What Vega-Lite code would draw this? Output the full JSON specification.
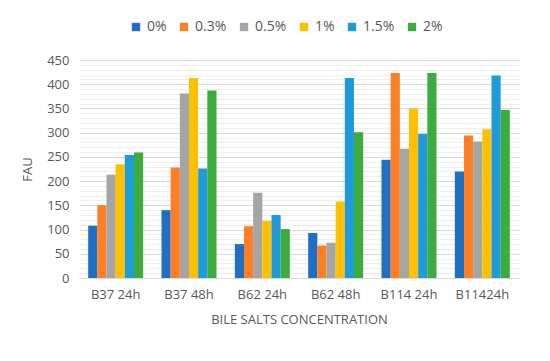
{
  "$schema": "https://vega.github.io/schema/vega-lite/v6.json",
  "width": 440,
  "height": 218,
  "padding": {"left": 21, "top": 20, "right": 23, "bottom": 10},
  "background": "white",
  "data": {
    "values": [
      {"group": "B37 24h", "conc": "0%", "fau": 108},
      {"group": "B37 24h", "conc": "0.3%", "fau": 150},
      {"group": "B37 24h", "conc": "0.5%", "fau": 213},
      {"group": "B37 24h", "conc": "1%", "fau": 235},
      {"group": "B37 24h", "conc": "1.5%", "fau": 254},
      {"group": "B37 24h", "conc": "2%", "fau": 259},
      {"group": "B37 48h", "conc": "0%", "fau": 140},
      {"group": "B37 48h", "conc": "0.3%", "fau": 228},
      {"group": "B37 48h", "conc": "0.5%", "fau": 381},
      {"group": "B37 48h", "conc": "1%", "fau": 413},
      {"group": "B37 48h", "conc": "1.5%", "fau": 226},
      {"group": "B37 48h", "conc": "2%", "fau": 387},
      {"group": "B62 24h", "conc": "0%", "fau": 70},
      {"group": "B62 24h", "conc": "0.3%", "fau": 107},
      {"group": "B62 24h", "conc": "0.5%", "fau": 176},
      {"group": "B62 24h", "conc": "1%", "fau": 118},
      {"group": "B62 24h", "conc": "1.5%", "fau": 130},
      {"group": "B62 24h", "conc": "2%", "fau": 101},
      {"group": "B62 48h", "conc": "0%", "fau": 93},
      {"group": "B62 48h", "conc": "0.3%", "fau": 67},
      {"group": "B62 48h", "conc": "0.5%", "fau": 73},
      {"group": "B62 48h", "conc": "1%", "fau": 158},
      {"group": "B62 48h", "conc": "1.5%", "fau": 413},
      {"group": "B62 48h", "conc": "2%", "fau": 301},
      {"group": "B114 24h", "conc": "0%", "fau": 244},
      {"group": "B114 24h", "conc": "0.3%", "fau": 423},
      {"group": "B114 24h", "conc": "0.5%", "fau": 267},
      {"group": "B114 24h", "conc": "1%", "fau": 350},
      {"group": "B114 24h", "conc": "1.5%", "fau": 297},
      {"group": "B114 24h", "conc": "2%", "fau": 423},
      {"group": "B11424h", "conc": "0%", "fau": 220},
      {"group": "B11424h", "conc": "0.3%", "fau": 294},
      {"group": "B11424h", "conc": "0.5%", "fau": 282},
      {"group": "B11424h", "conc": "1%", "fau": 307},
      {"group": "B11424h", "conc": "1.5%", "fau": 418},
      {"group": "B11424h", "conc": "2%", "fau": 347}
    ]
  },
  "mark": {"type": "bar"},
  "encoding": {
    "x": {
      "field": "group",
      "type": "nominal",
      "sort": null,
      "scale": {"paddingInner": 0.25, "paddingOuter": 0.125},
      "axis": {
        "title": "BILE SALTS CONCENTRATION",
        "labelAngle": 0,
        "ticks": false,
        "domainColor": "#d9d9d9",
        "labelPadding": 10,
        "titlePadding": 12
      }
    },
    "xOffset": {"field": "conc", "type": "nominal", "sort": null},
    "y": {
      "field": "fau",
      "type": "quantitative",
      "scale": {"domain": [0, 450], "nice": false},
      "axis": {
        "title": "FAU",
        "values": [0,10,20,30,40,50,60,70,80,90,100,110,120,130,140,150,160,170,180,190,200,210,220,230,240,250,260,270,280,290,300,310,320,330,340,350,360,370,380,390,400,410,420,430,440,450],
        "labelExpr": "datum.value % 50 === 0 ? datum.label : ''",
        "grid": true,
        "gridColor": {"condition": {"test": "datum.value % 50 === 0", "value": "#d9d9d9"}, "value": "#efefef"},
        "ticks": false,
        "domain": false,
        "labelPadding": 10,
        "titlePadding": 12
      }
    },
    "color": {
      "field": "conc",
      "type": "nominal",
      "sort": null,
      "scale": {
        "domain": ["0%", "0.3%", "0.5%", "1%", "1.5%", "2%"],
        "range": ["#1F6FC5", "#FF7F27", "#A5A5A5", "#FFC000", "#1E9BD8", "#3DAB3D"]
      },
      "legend": {
        "orient": "none",
        "legendX": 50,
        "legendY": -40,
        "direction": "horizontal",
        "title": null,
        "symbolType": "square",
        "symbolSize": 70,
        "symbolStrokeWidth": 0,
        "labelFontSize": 14,
        "columnPadding": 10
      }
    }
  },
  "config": {
    "font": "Open Sans",
    "view": {"stroke": null},
    "axis": {
      "labelColor": "#595959",
      "titleColor": "#595959",
      "labelFontSize": 13,
      "titleFontSize": 13,
      "titleFontWeight": "normal",
      "labelFont": "Open Sans",
      "titleFont": "Open Sans"
    },
    "legend": {"labelColor": "#595959", "labelFont": "Open Sans"}
  }
}
